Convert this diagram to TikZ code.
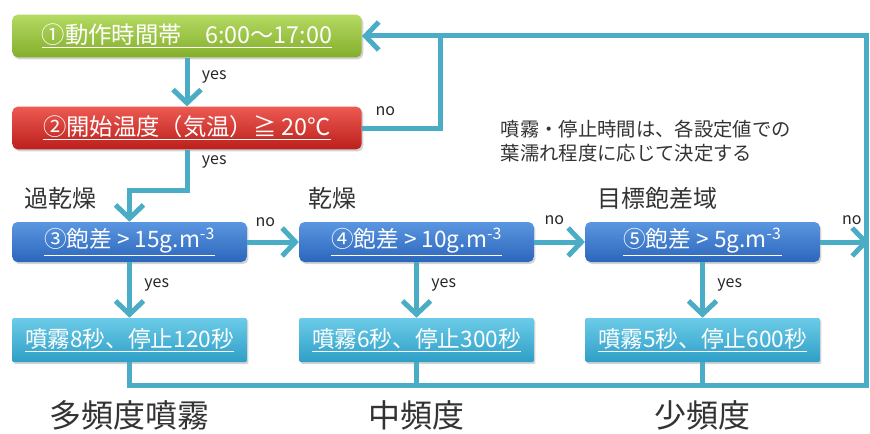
\documentclass[tikz,border=0pt]{standalone}
\usepackage{fontspec}
\setmainfont{Noto Sans CJK JP}
\usetikzlibrary{arrows.meta, positioning, shadows}
\definecolor{flowc}{HTML}{4BACC6}
\definecolor{greent}{HTML}{B4DA62}
\definecolor{greenb}{HTML}{84AE2C}
\definecolor{redt}{HTML}{EC5A52}
\definecolor{redb}{HTML}{BC1F1B}
\definecolor{bluet}{HTML}{5A96E0}
\definecolor{blueb}{HTML}{2C66BC}
\definecolor{cyant}{HTML}{6CCBE8}
\definecolor{cyanb}{HTML}{2E9FC7}
\definecolor{labelc}{HTML}{333333}

\begin{document}
\begin{tikzpicture}[
    x=0.75pt, y=0.75pt,
    every node/.style={font=\fontsize{17}{19}\selectfont},
    box/.style={rounded corners=4pt, text=white, inner sep=0pt,
        drop shadow={opacity=0.35, shadow xshift=1.2pt, shadow yshift=-1.5pt}},
    widebox/.style={box, minimum width=262pt, minimum height=32pt,
        font=\fontsize{17.5}{19}\selectfont},
    smallbox/.style={box, minimum width=176pt, minimum height=30pt},
    lowbox/.style={box, rounded corners=1pt, minimum width=176pt, minimum height=33pt,
        top color=cyant, bottom color=cyanb},
    testbox/.style={smallbox, top color=bluet, bottom color=blueb},
    line/.style={draw=flowc, line width=3.75pt},
    flow/.style={line, -{Straight Barb[length=10pt, width=21pt]}},
    lbl/.style={font=\fontsize{12}{14}\selectfont, text=black!85},
    sec/.style={font=\fontsize{18}{20}\selectfont, text=labelc},
    freq/.style={font=\fontsize{24}{26}\selectfont, text=labelc},
]
\useasboundingbox (0,0) rectangle (870,433);

% start conditions
\node[widebox, top color=greent, bottom color=greenb] (b1) at (187,397)
    {\underline{①動作時間帯　6:00～17:00}};
\node[widebox, top color=redt, bottom color=redb] (b2) at (187,305)
    {\underline{②開始温度（気温）≧ 20℃}};

% humidity deficit tests
\node[testbox] (b3) at (129.5,191) {\underline{③飽差 > 15g.m\textsuperscript{-3}}};
\node[testbox] (b4) at (416.5,191) {\underline{④飽差 > 10g.m\textsuperscript{-3}}};
\node[testbox] (b5) at (702.5,191) {\underline{⑤飽差 > 5g.m\textsuperscript{-3}}};

\node[sec, anchor=south west] at ([xshift=6pt, yshift=6pt]b3.north west) {過乾燥};
\node[sec, anchor=south west] at ([xshift=4pt, yshift=6pt]b4.north west) {乾燥};
\node[sec, anchor=south west] at ([xshift=6pt, yshift=6pt]b5.north west) {目標飽差域};

% spray settings
\node[lowbox] (b6) at (129.5,93) {\underline{噴霧8秒、停止120秒}};
\node[lowbox] (b7) at (416.5,93) {\underline{噴霧6秒、停止300秒}};
\node[lowbox] (b8) at (702.5,93) {\underline{噴霧5秒、停止600秒}};

\node[freq] (f1) at (b6.south |- 0,18) {多頻度噴霧};
\node[freq] (f2) at (b7.south |- 0,18) {中頻度};
\node[freq] (f3) at (b8.south |- 0,18) {少頻度};

\node[font=\fontsize{14.5}{18.5}\selectfont, text=labelc, align=left, anchor=north west]
    (note) at (496,318) {噴霧・停止時間は、各設定値での\\葉濡れ程度に応じて決定する};

% return path
\coordinate (j1) at (440,397);
\coordinate (j2) at (187,243);
\coordinate (rb) at (866,48);
\coordinate (rt) at (866,397);
\coordinate (exit) at (869,191);

\draw[flow] (b1) -- node[lbl, right=6pt, pos=0.4] {yes} (b2);
\draw[line] (b2.east) -| node[lbl, above=4pt, pos=0.15] {no} (j1);
\draw[flow] (b2.south) -- node[lbl, right=6pt, pos=0.3] {yes} (j2) -| (b3.north);

\draw[flow] (b3) -- node[lbl, above=6pt, pos=0.35] {no} (b4);
\draw[flow] (b4) -- node[lbl, above=8pt, pos=0.4] {no} (b5);
\draw[flow] (b5) -- node[lbl, above=8pt, pos=0.65] {no} (exit);

\draw[flow] (b3) -- node[lbl, right=6pt, pos=0.4] {yes} (b6);
\draw[flow] (b4) -- node[lbl, right=6pt, pos=0.4] {yes} (b7);
\draw[flow] (b5) -- node[lbl, right=6pt, pos=0.4] {yes} (b8);

\draw[flow] (b6.south) |- (rb) -- (rt) -- (b1.east);
\draw[line] (b7.south) -- (b7.south |- rb);
\draw[line] (b8.south) -- (b8.south |- rb);

\end{tikzpicture}
\end{document}
